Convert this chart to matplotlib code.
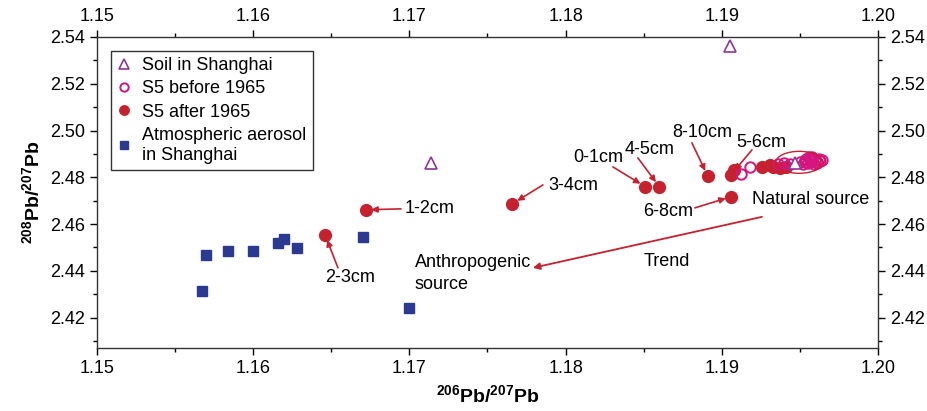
import numpy as np
import matplotlib.pyplot as plt
from matplotlib.patches import Ellipse
from matplotlib.ticker import MultipleLocator, FormatStrFormatter

plt.rcParams['font.family'] = ['Liberation Sans', 'DejaVu Sans']
plt.rcParams['mathtext.fontset'] = 'custom'
plt.rcParams['mathtext.rm'] = 'Liberation Sans'
plt.rcParams['mathtext.bf'] = 'Liberation Sans:bold'

# soil in Shanghai
soil_x = [1.1714, 1.1905, 1.1947]
soil_y = [2.4860, 2.5362, 2.4862]

# S5 before 1965 (open circles)
before_x = [1.1912, 1.1918, 1.1936, 1.1940, 1.1944, 1.1950, 1.1953, 1.1955, 1.1957,
            1.1958, 1.1960, 1.1961, 1.1962, 1.1963, 1.1956, 1.1959, 1.1952,
            1.1954, 1.1958, 1.1961, 1.1964, 1.1957, 1.1953]
before_y = [2.4812, 2.4843, 2.4858, 2.4860, 2.4855, 2.4866, 2.4872, 2.4862, 2.4878,
            2.4868, 2.4874, 2.4862, 2.4880, 2.4870, 2.4885, 2.4858, 2.4857,
            2.4880, 2.4887, 2.4867, 2.4876, 2.4871, 2.4864]

# S5 after 1965 (filled circles), first 8 are the labelled depths
after_x = [1.1851, 1.1672, 1.1646, 1.1766, 1.1860, 1.1906, 1.1906, 1.1891,
           1.1908, 1.1926, 1.1931, 1.1933, 1.1937, 1.1941]
after_y = [2.4760, 2.4661, 2.4554, 2.4687, 2.4760, 2.4811, 2.4717, 2.4806,
           2.4830, 2.4846, 2.4853, 2.4846, 2.4841, 2.4842]

# atmospheric aerosol
aer_x = [1.1567, 1.1570, 1.1584, 1.1600, 1.1616, 1.1620, 1.1628, 1.1670, 1.1700]
aer_y = [2.4315, 2.4468, 2.4485, 2.4485, 2.4519, 2.4536, 2.4498, 2.4545, 2.4243]

# depth labels (same order as first 8 points of after_*)
depth_labels = ['0-1cm', '1-2cm', '2-3cm', '3-4cm', '4-5cm', '5-6cm', '6-8cm', '8-10cm']
depth_text_x = [1.18207, 1.17132, 1.16620, 1.18047, 1.18540, 1.19251, 1.18656, 1.18873]
depth_text_y = [2.48829, 2.46650, 2.43701, 2.47632, 2.49171, 2.49470, 2.46521, 2.49897]
depth_arrow_from_x = [1.18303, 1.16946, 1.16543, 1.17855, 1.18463, 1.19193, 1.18828, 1.18809]
depth_arrow_from_y = [2.48444, 2.46650, 2.44128, 2.47675, 2.48829, 2.49171, 2.46692, 2.49470]

red = '#c5212f'
blue = '#2b3990'
purple = '#8e3596'
magenta = '#d4157f'

fig = plt.figure(figsize=(9.27, 4.11), dpi=100)
ax = fig.add_axes([0.1046, 0.1533, 0.8425, 0.7567])

ax.plot(aer_x, aer_y, 's', ms=7.5, color=blue, mec=blue,
        label='Atmospheric aerosol\nin Shanghai', zorder=3)
ax.plot(after_x, after_y, 'o', ms=8.5, color=red, mec=red,
        label='S5 after 1965', zorder=3)
ax.plot(before_x, before_y, 'o', ms=7.5, mfc='none', mec=magenta, mew=1.4,
        label='S5 before 1965', zorder=4)
ax.plot(soil_x, soil_y, '^', ms=9, mfc='white', mec=purple, mew=1.2,
        label='Soil in Shanghai', zorder=5)

ax.add_patch(Ellipse((1.19496, 2.4864), 0.0030, 0.0094, fill=False,
                     ec=red, lw=1.0, zorder=6))

arrow = dict(arrowstyle='-|>', color=red, lw=1.2, mutation_scale=9,
             shrinkA=0, shrinkB=4)
for i, lab in enumerate(depth_labels):
    ax.text(depth_text_x[i], depth_text_y[i], lab, fontsize=13,
            ha='center', va='center')
    ax.annotate('', xy=(after_x[i], after_y[i]),
                xytext=(depth_arrow_from_x[i], depth_arrow_from_y[i]),
                arrowprops=arrow)

ax.text(1.19193, 2.47034, 'Natural source', fontsize=13, ha='left', va='center')
ax.text(1.17036, 2.43893, 'Anthropogenic\nsource', fontsize=13, ha='left',
        va='center', linespacing=1.35)
ax.text(1.18649, 2.44385, 'Trend', fontsize=13, ha='center', va='center')
ax.annotate('', xy=(1.17791, 2.44128), xytext=(1.19257, 2.46308),
            arrowprops=dict(arrowstyle='-|>', color=red, lw=1.3,
                            mutation_scale=10, shrinkA=0, shrinkB=0))

ax.set_xlim(1.15, 1.20)
ax.set_ylim(2.407, 2.54)
ax.xaxis.set_major_locator(MultipleLocator(0.01))
ax.xaxis.set_minor_locator(MultipleLocator(0.005))
ax.yaxis.set_major_locator(MultipleLocator(0.02))
ax.yaxis.set_minor_locator(MultipleLocator(0.01))
ax.xaxis.set_major_formatter(FormatStrFormatter('%.2f'))
ax.yaxis.set_major_formatter(FormatStrFormatter('%.2f'))
ax.tick_params(which='both', direction='out', top=True, right=True,
               labeltop=True, labelright=True, labelsize=13, width=1.0)
ax.tick_params(which='major', length=5)
ax.tick_params(which='minor', length=3)
for s in ax.spines.values():
    s.set_linewidth(1.0)
    s.set_color('#333333')

ax.set_xlabel(r'$\mathbf{^{206}Pb/^{207}Pb}$', fontsize=14, labelpad=5)
ax.set_ylabel(r'$\mathbf{^{208}Pb/^{207}Pb}$', fontsize=14, labelpad=5)

handles, labels = ax.get_legend_handles_labels()
order = [3, 2, 1, 0]
leg = ax.legend([handles[i] for i in order], [labels[i] for i in order],
                loc='upper left', bbox_to_anchor=(0.006, 0.985), fontsize=13,
                frameon=True, fancybox=False, edgecolor='black',
                handlelength=0.8, handletextpad=0.6, borderpad=0.35,
                labelspacing=0.35, markerscale=0.8)
leg.get_frame().set_linewidth(1.0)

fig.savefig('out.png', dpi=100)
